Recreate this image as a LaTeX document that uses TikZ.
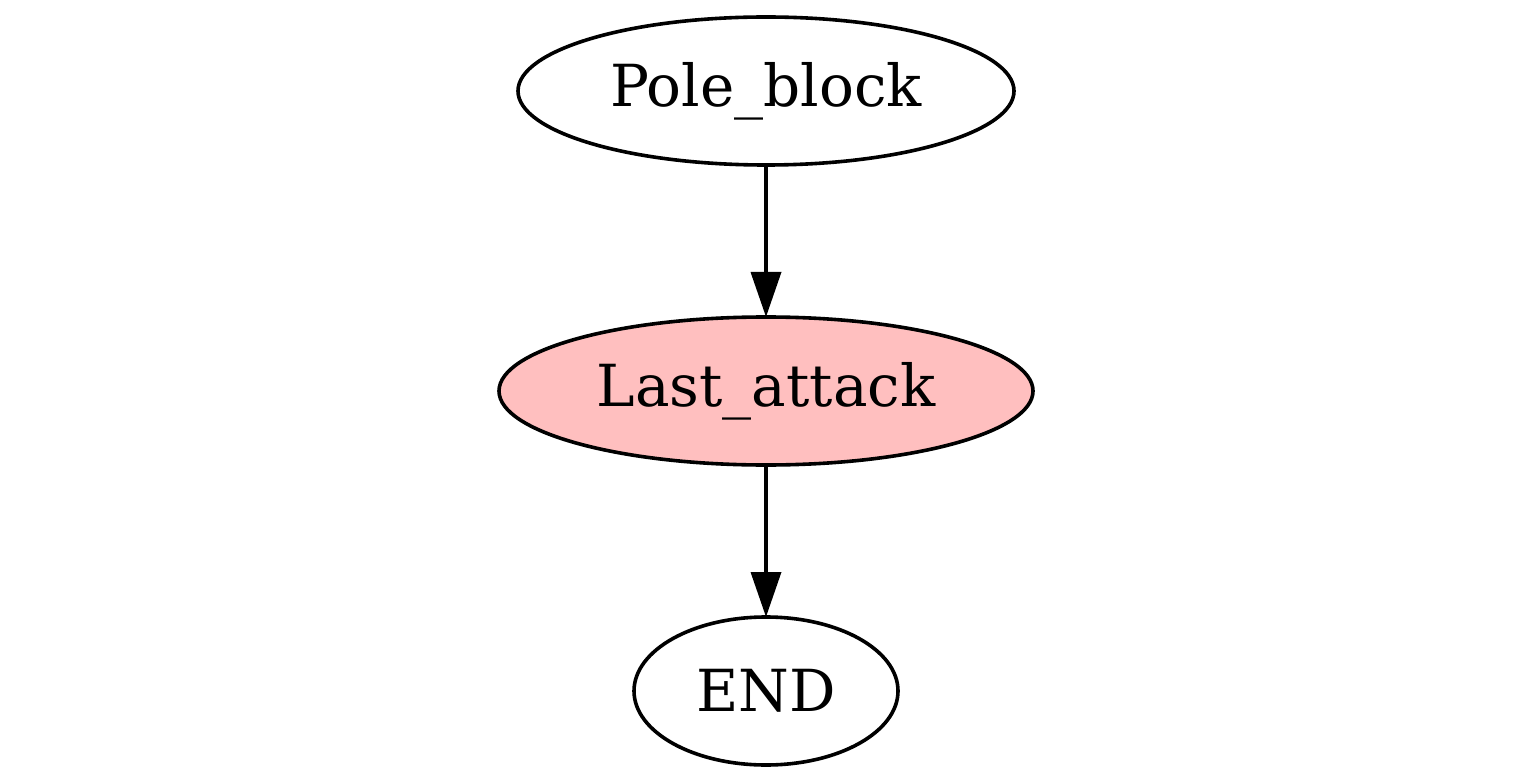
\documentclass[tikz,border=0pt]{standalone}
\usepackage{fontspec}
\setmainfont{DejaVu Serif}
\usetikzlibrary{shapes.geometric,arrows.meta}
\definecolor{lastpink}{RGB}{255,191,191}
\tikzset{
  gnode/.style={ellipse, draw=black, line width=3.6pt, inner sep=0pt, outer sep=0pt,
    minimum height=148pt, font=\fontsize{58pt}{60pt}\selectfont},
  conn/.style={line width=3.6pt, -{Triangle[length=45pt,width=30pt]}}
}
\begin{document}
\begin{tikzpicture}[x=1pt,y=-1pt]
\useasboundingbox (0,0) rectangle (1538,783);
\node[gnode, minimum width=496pt] (pole) at (766,91) {Pole\_block};
\node[gnode, minimum width=534pt, fill=lastpink] (last) at (766,391) {Last\_attack};
\node[gnode, minimum width=264pt] (end) at (766,691) {END};
\draw[conn] (pole) -- (last);
\draw[conn] (last) -- (end);
\end{tikzpicture}
\end{document}
